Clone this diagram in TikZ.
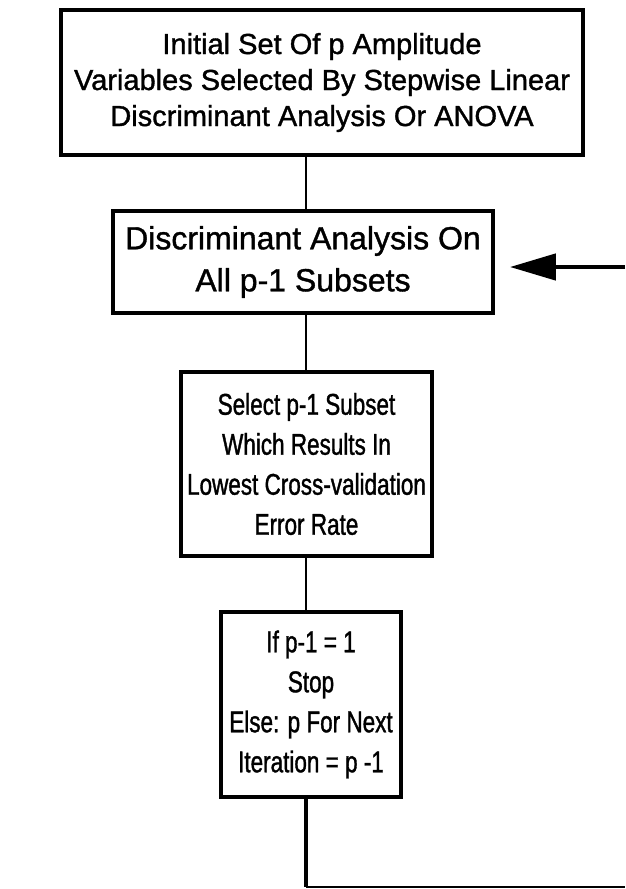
\documentclass[tikz,border=0pt]{standalone}
\usepackage{fontspec}
\setmainfont[FakeBold=1.2]{Liberation Sans}
\newfontfamily\narrowsans[FakeStretch=0.75,FakeBold=1.2]{Liberation Sans}
\usetikzlibrary{arrows.meta}
\begin{document}
\begin{tikzpicture}[x=1pt,y=-1pt,
  stepbox/.style={draw, line width=3.8pt, align=center, inner sep=0pt,
    font=\fontsize{32}{42}\selectfont},
  narrowbox/.style={stepbox, font=\narrowsans\fontsize{30}{40}\selectfont},
  link/.style={line width=2pt},
  loopline/.style={line width=3.8pt},
  feedback/.style={line width=4.5pt, -{Triangle[length=46pt,width=26pt]}}]
\useasboundingbox (0,0) rectangle (625,889);

% process boxes
\node[stepbox, minimum width=522pt, minimum height=145pt,
      font=\fontsize{29}{36}\selectfont] (b1) at (322,82.5)
  {Initial Set Of p Amplitude\\Variables Selected By Stepwise Linear\\Discriminant Analysis Or ANOVA};
\node[stepbox, minimum width=380pt, minimum height=102pt] (b2) at (303,262)
  {Discriminant Analysis On\\All p-1 Subsets};
\node[narrowbox, minimum width=251pt, minimum height=184pt] (b3) at (306.5,464)
  {Select p-1 Subset\\Which Results In\\Lowest Cross-validation\\Error Rate};
\node[narrowbox, minimum width=180pt, minimum height=185pt] (b4) at (311,704.5)
  {If p-1 = 1\\Stop\\Else: p For Next\\Iteration = p -1};

% vertical links
\coordinate (axis) at (306,0);
\draw[link] (b1.south -| axis) -- (b2.north -| axis);
\draw[link] (b2.south -| axis) -- (b3.north -| axis);
\draw[link] (b3.south -| axis) -- (b4.north -| axis);

% return path back to the subset analysis
\coordinate (corner) at (306,887);
\coordinate (loopend) at (625,887);
\coordinate (arrowstart) at (625,267);
\draw[loopline] (b4.south -| axis) -- (corner);
\draw[line width=2pt] (corner) -- (loopend);
\draw[feedback, shorten >=15pt] (arrowstart) -- (b2.east |- arrowstart);
\end{tikzpicture}
\end{document}
